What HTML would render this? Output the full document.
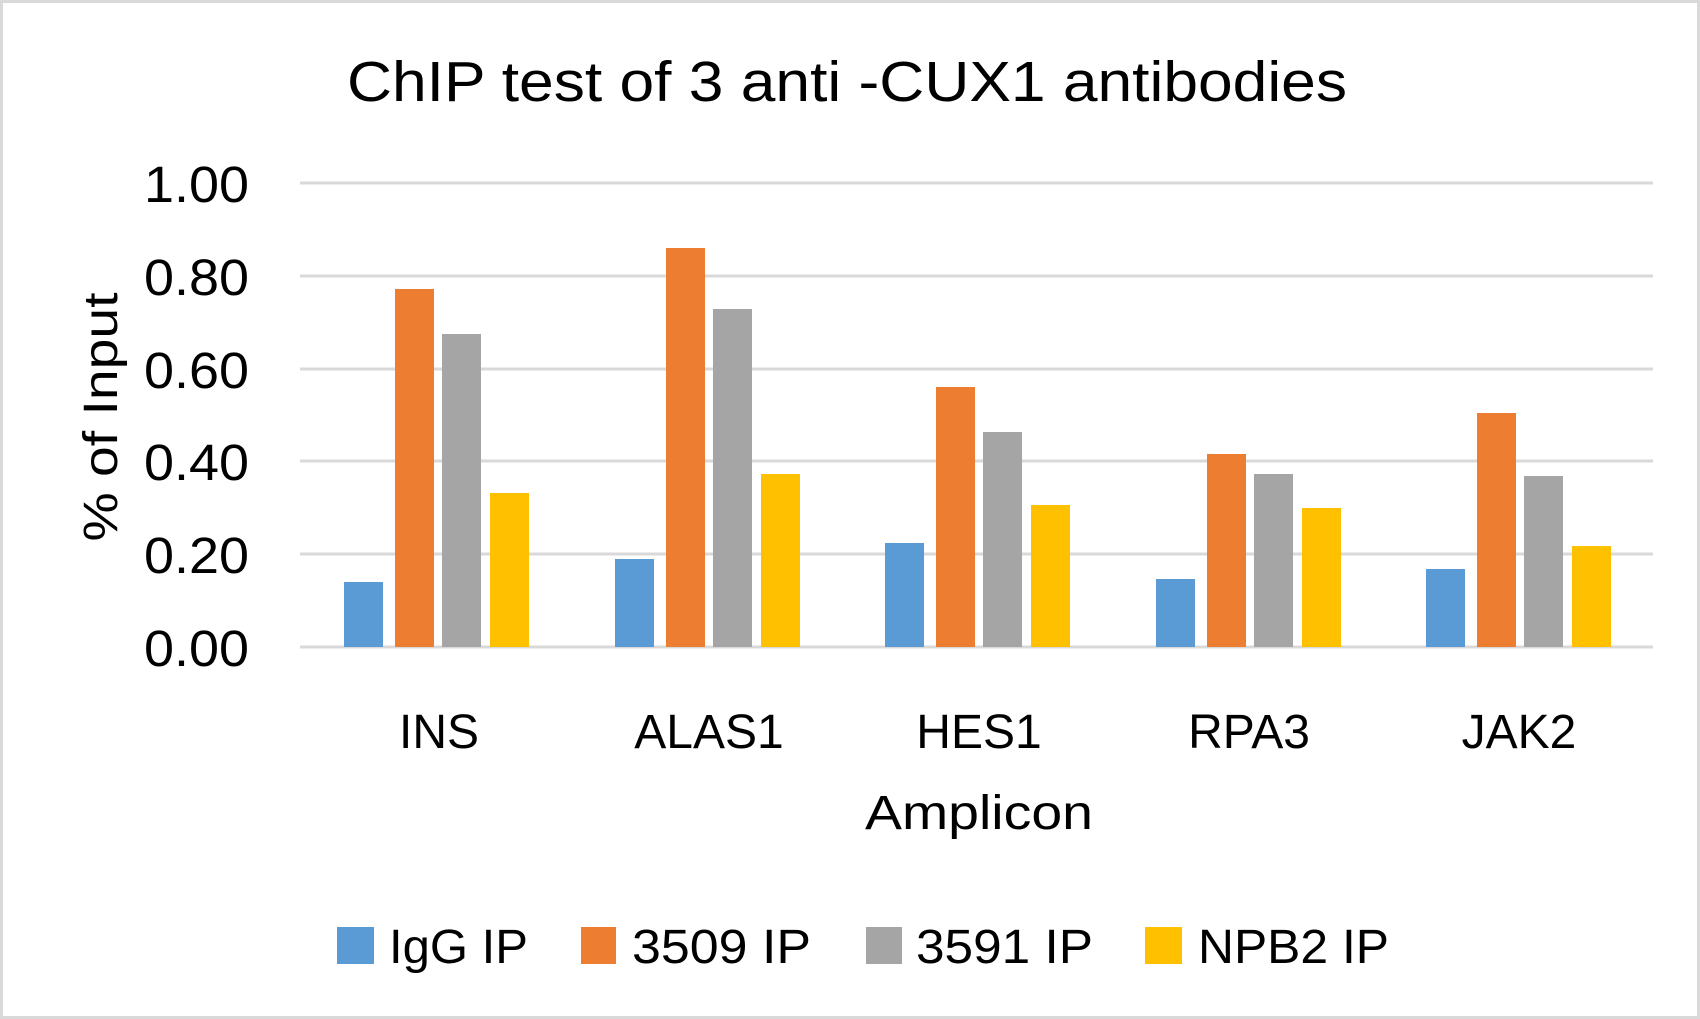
<!DOCTYPE html>
<html><head><meta charset="utf-8"><style>
html,body{margin:0;padding:0;background:#fff}
svg{display:block}
text{font-family:"Liberation Sans",sans-serif;fill:#000}
</style></head><body>
<svg width="1700" height="1019" viewBox="0 0 1700 1019" xmlns="http://www.w3.org/2000/svg">
<rect x="1.5" y="1.5" width="1697" height="1016" fill="#fff" stroke="#d9d9d9" stroke-width="3"/>
<text x="847" y="101" font-size="57" text-anchor="middle" textLength="1000" lengthAdjust="spacingAndGlyphs">ChIP test of 3 anti -CUX1 antibodies</text>
<g stroke="#d9d9d9" stroke-width="3">
<line x1="300" x2="1653" y1="183" y2="183"/>
<line x1="300" x2="1653" y1="276" y2="276"/>
<line x1="300" x2="1653" y1="369" y2="369"/>
<line x1="300" x2="1653" y1="461" y2="461"/>
<line x1="300" x2="1653" y1="554" y2="554"/>
<line x1="300" x2="1653" y1="647" y2="647"/>
</g>
<g font-size="51" text-anchor="end">
<text x="249" y="202" textLength="105" lengthAdjust="spacingAndGlyphs">1.00</text>
<text x="249" y="295" textLength="105" lengthAdjust="spacingAndGlyphs">0.80</text>
<text x="249" y="388" textLength="105" lengthAdjust="spacingAndGlyphs">0.60</text>
<text x="249" y="480" textLength="105" lengthAdjust="spacingAndGlyphs">0.40</text>
<text x="249" y="573" textLength="105" lengthAdjust="spacingAndGlyphs">0.20</text>
<text x="249" y="666" textLength="105" lengthAdjust="spacingAndGlyphs">0.00</text>
</g>
<text transform="translate(117,417) rotate(-90)" font-size="48" text-anchor="middle" textLength="249" lengthAdjust="spacingAndGlyphs">% of Input</text>
<g id="bars">
<rect x="344" y="582" width="39" height="65" fill="#5b9bd5"/>
<rect x="395" y="289" width="39" height="358" fill="#ed7d31"/>
<rect x="442" y="334" width="39" height="313" fill="#a5a5a5"/>
<rect x="490" y="493" width="39" height="154" fill="#ffc000"/>
<rect x="615" y="559" width="39" height="88" fill="#5b9bd5"/>
<rect x="666" y="248" width="39" height="399" fill="#ed7d31"/>
<rect x="713" y="309" width="39" height="338" fill="#a5a5a5"/>
<rect x="761" y="474" width="39" height="173" fill="#ffc000"/>
<rect x="885" y="543" width="39" height="104" fill="#5b9bd5"/>
<rect x="936" y="387" width="39" height="260" fill="#ed7d31"/>
<rect x="983" y="432" width="39" height="215" fill="#a5a5a5"/>
<rect x="1031" y="505" width="39" height="142" fill="#ffc000"/>
<rect x="1156" y="579" width="39" height="68" fill="#5b9bd5"/>
<rect x="1207" y="454" width="39" height="193" fill="#ed7d31"/>
<rect x="1254" y="474" width="39" height="173" fill="#a5a5a5"/>
<rect x="1302" y="508" width="39" height="139" fill="#ffc000"/>
<rect x="1426" y="569" width="39" height="78" fill="#5b9bd5"/>
<rect x="1477" y="413" width="39" height="234" fill="#ed7d31"/>
<rect x="1524" y="476" width="39" height="171" fill="#a5a5a5"/>
<rect x="1572" y="546" width="39" height="101" fill="#ffc000"/>
</g>
<g font-size="48" text-anchor="middle">
<text x="439" y="748">INS</text>
<text x="709" y="748">ALAS1</text>
<text x="979" y="748">HES1</text>
<text x="1249" y="748">RPA3</text>
<text x="1519" y="748">JAK2</text>
<text x="979" y="829" textLength="228" lengthAdjust="spacingAndGlyphs">Amplicon</text>
</g>
<rect x="337" y="927" width="37" height="37" fill="#5b9bd5"/>
<text x="389" y="963" font-size="48" textLength="139" lengthAdjust="spacingAndGlyphs">IgG IP</text>
<rect x="581" y="927" width="35" height="37" fill="#ed7d31"/>
<text x="632" y="963" font-size="48" textLength="179" lengthAdjust="spacingAndGlyphs">3509 IP</text>
<rect x="866" y="927" width="36" height="37" fill="#a5a5a5"/>
<text x="916" y="963" font-size="48" textLength="177" lengthAdjust="spacingAndGlyphs">3591 IP</text>
<rect x="1145" y="927" width="37" height="37" fill="#ffc000"/>
<text x="1198" y="963" font-size="48" textLength="191" lengthAdjust="spacingAndGlyphs">NPB2 IP</text>
</svg>
</body></html>
